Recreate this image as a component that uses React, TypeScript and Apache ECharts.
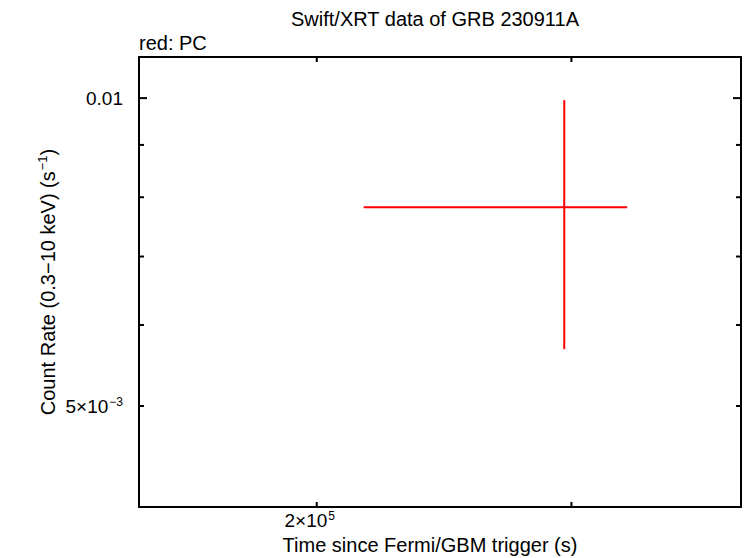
import React, { useEffect, useRef } from "react";
import * as echarts from "echarts";

// Data
const pointTime = [296600];
const pointTimeLo = [215500];
const pointTimeHi = [327900];
const pointRate = [0.00782];
const pointRateLo = [0.005683];
const pointRateHi = [0.009955];

// Axis ranges
const xRange = [150700, 393000];
const yRange = [0.003983, 0.01097];

// Ticks
const xMinorTicks = [200000, 300000];
const yMajorTicks = [0.01];
const yMinorTicks = [0.005, 0.006, 0.007, 0.008, 0.009];
const xTickLabels = [{ value: 200000, text: "{a|2×10}{b|5}" }];
const yTickLabels = [
  { value: 0.01, text: "{a|0.01}" },
  { value: 0.005, text: "{a|5×10}{b|−3}" },
];

const FONT = "Liberation Sans, Arial, Helvetica, sans-serif";
const rich = {
  a: { fontSize: 19, fontFamily: FONT, color: "#000", lineHeight: 20, verticalAlign: "bottom" as const },
  b: { fontSize: 12, fontFamily: FONT, color: "#000", lineHeight: 20, verticalAlign: "top" as const, padding: [0, 0, 0, 1] },
};
const nameRich = {
  a: { fontSize: 20, fontFamily: FONT, color: "#000", lineHeight: 22, verticalAlign: "bottom" as const },
  b: { fontSize: 13, fontFamily: FONT, color: "#000", lineHeight: 22, verticalAlign: "top" as const, padding: [0, 0, 0, 1] },
};

type TickItem = { axis: "x" | "y"; value: number; len: number };

const tickItems: TickItem[] = [
  ...xMinorTicks.map((v) => ({ axis: "x" as const, value: v, len: 5 })),
  ...yMajorTicks.map((v) => ({ axis: "y" as const, value: v, len: 8 })),
  ...yMinorTicks.map((v) => ({ axis: "y" as const, value: v, len: 5 })),
];

export default function App() {
  const ref = useRef<HTMLDivElement>(null);
  useEffect(() => {
    if (!ref.current) return;
    const chart = echarts.init(ref.current, undefined, { renderer: "svg" });

    const axisLine = { show: true, onZero: false, lineStyle: { color: "#000", width: 2 } };
    const baseAxis = {
      axisLine,
      axisTick: { show: false },
      axisLabel: { show: false },
      splitLine: { show: false },
      minorTick: { show: false },
    };

    chart.setOption({
      animation: false,
      backgroundColor: "#fff",
      graphic: [
        {
          type: "text",
          x: 435,
          y: 19,
          style: {
            text: "Swift/XRT data of GRB 230911A",
            font: `20px ${FONT}`,
            fill: "#000",
            align: "center",
            verticalAlign: "middle",
          },
        },
        {
          type: "text",
          x: 139,
          y: 43,
          style: {
            text: "red: PC",
            font: `20px ${FONT}`,
            fill: "#000",
            align: "left",
            verticalAlign: "middle",
          },
        },
        {
          type: "text",
          x: 430,
          y: 545,
          style: {
            text: "Time since Fermi/GBM trigger (s)",
            font: `20px ${FONT}`,
            fill: "#000",
            align: "center",
            verticalAlign: "middle",
          },
        },
        {
          type: "text",
          x: 47,
          y: 282,
          rotation: Math.PI / 2,
          style: {
            text: "{a|Count Rate (0.3−10 keV) (s}{b|−1}{a|)}",
            rich: nameRich,
            align: "center",
            verticalAlign: "middle",
          },
        },
      ],
      grid: { left: 139, right: 5, top: 57, bottom: 51, containLabel: false, outerBoundsMode: "none" },
      xAxis: [
        { type: "log", min: xRange[0], max: xRange[1], position: "bottom", ...baseAxis },
        { type: "log", min: xRange[0], max: xRange[1], position: "top", ...baseAxis },
      ],
      yAxis: [
        { type: "log", min: yRange[0], max: yRange[1], position: "left", ...baseAxis },
        { type: "log", min: yRange[0], max: yRange[1], position: "right", ...baseAxis },
      ],
      series: [
        {
          type: "custom",
          coordinateSystem: "cartesian2d",
          clip: false,
          silent: true,
          data: tickItems.map((t, i) => [i]),
          renderItem: (params: any, api: any) => {
            const t = tickItems[api.value(0)];
            const cs = params.coordSys;
            const children: any[] = [];
            const style = { stroke: "#000", lineWidth: 2 };
            if (t.axis === "x") {
              const p = api.coord([t.value, yRange[0]]);
              const x = p[0];
              const bottom = cs.y + cs.height;
              const top = cs.y;
              children.push({ type: "line", shape: { x1: x, y1: bottom, x2: x, y2: bottom - t.len }, style });
              children.push({ type: "line", shape: { x1: x, y1: top, x2: x, y2: top + t.len }, style });
            } else {
              const p = api.coord([xRange[0], t.value]);
              const y = p[1];
              const left = cs.x;
              const right = cs.x + cs.width;
              children.push({ type: "line", shape: { x1: left, y1: y, x2: left + t.len, y2: y }, style });
              children.push({ type: "line", shape: { x1: right, y1: y, x2: right - t.len, y2: y }, style });
            }
            return { type: "group", children };
          },
        },
        {
          type: "custom",
          coordinateSystem: "cartesian2d",
          clip: false,
          silent: true,
          data: xTickLabels.map((l, i) => [l.value, yRange[0], i]),
          renderItem: (params: any, api: any) => {
            const l = xTickLabels[api.value(2)];
            const p = api.coord([api.value(0), api.value(1)]);
            return {
              type: "text",
              x: p[0] - 7,
              y: p[1] + 13,
              style: { text: l.text, rich, align: "center", verticalAlign: "middle" },
            };
          },
        },
        {
          type: "custom",
          coordinateSystem: "cartesian2d",
          clip: false,
          silent: true,
          data: yTickLabels.map((l, i) => [xRange[0], l.value, i]),
          renderItem: (params: any, api: any) => {
            const l = yTickLabels[api.value(2)];
            const p = api.coord([api.value(0), api.value(1)]);
            return {
              type: "text",
              x: p[0] - 16,
              y: p[1],
              style: { text: l.text, rich, align: "right", verticalAlign: "middle" },
            };
          },
        },
        {
          type: "custom",
          coordinateSystem: "cartesian2d",
          clip: false,
          silent: true,
          data: pointTime.map((t, i) => [t, pointRate[i], pointTimeLo[i], pointTimeHi[i], pointRateLo[i], pointRateHi[i]]),
          renderItem: (params: any, api: any) => {
            const c = api.coord([api.value(0), api.value(1)]);
            const xl = api.coord([api.value(2), api.value(1)]);
            const xh = api.coord([api.value(3), api.value(1)]);
            const yl = api.coord([api.value(0), api.value(4)]);
            const yh = api.coord([api.value(0), api.value(5)]);
            const style = { stroke: "#ff0000", lineWidth: 2 };
            return {
              type: "group",
              children: [
                { type: "line", shape: { x1: xl[0], y1: c[1], x2: xh[0], y2: c[1] }, style },
                { type: "line", shape: { x1: c[0], y1: yl[1], x2: c[0], y2: yh[1] }, style },
              ],
            };
          },
        },
      ],
    });
    return () => chart.dispose();
  }, []);
  return <div ref={ref} style={{ width: 746, height: 558, position: "absolute", left: 0, top: 0 }} />;
}
